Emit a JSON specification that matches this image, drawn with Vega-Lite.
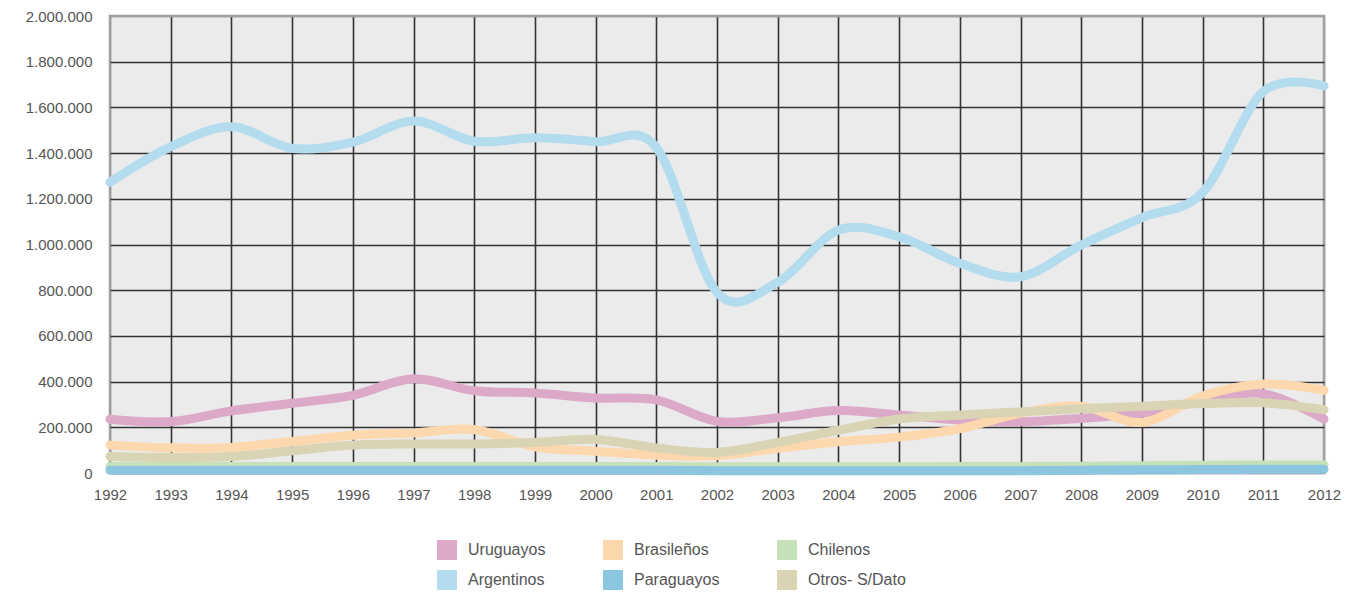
{
  "$schema": "https://vega.github.io/schema/vega-lite/v6.json",
  "width": 1214,
  "height": 457,
  "autosize": {"type": "none"},
  "padding": {"top": 16, "left": 110, "right": 40, "bottom": 119},
  "background": "white",
  "config": {
    "locale": {"number": {"decimal": ",", "thousands": ".", "grouping": [3], "currency": ["", ""]}},
    "view": {"fill": "#ebebeb", "stroke": "#a0a0a0", "strokeWidth": 2.5},
    "font": "Liberation Sans"
  },
  "data": {
    "values": [
      {"year": 1992, "Uruguayos": 235000, "Brasileños": 122000, "Chilenos": 28000, "Argentinos": 1272000, "Paraguayos": 12000, "Otros- S/Dato": 72000},
      {"year": 1993, "Uruguayos": 225000, "Brasileños": 110000, "Chilenos": 28000, "Argentinos": 1428000, "Paraguayos": 12000, "Otros- S/Dato": 68000},
      {"year": 1994, "Uruguayos": 272000, "Brasileños": 112000, "Chilenos": 28000, "Argentinos": 1515000, "Paraguayos": 12000, "Otros- S/Dato": 72000},
      {"year": 1995, "Uruguayos": 305000, "Brasileños": 138000, "Chilenos": 28000, "Argentinos": 1421000, "Paraguayos": 12000, "Otros- S/Dato": 97000},
      {"year": 1996, "Uruguayos": 340000, "Brasileños": 165000, "Chilenos": 28000, "Argentinos": 1448000, "Paraguayos": 12000, "Otros- S/Dato": 122000},
      {"year": 1997, "Uruguayos": 412000, "Brasileños": 175000, "Chilenos": 28000, "Argentinos": 1540000, "Paraguayos": 12000, "Otros- S/Dato": 127000},
      {"year": 1998, "Uruguayos": 360000, "Brasileños": 190000, "Chilenos": 28000, "Argentinos": 1452000, "Paraguayos": 12000, "Otros- S/Dato": 127000},
      {"year": 1999, "Uruguayos": 350000, "Brasileños": 115000, "Chilenos": 28000, "Argentinos": 1467000, "Paraguayos": 12000, "Otros- S/Dato": 134000},
      {"year": 2000, "Uruguayos": 328000, "Brasileños": 95000, "Chilenos": 28000, "Argentinos": 1450000, "Paraguayos": 12000, "Otros- S/Dato": 147000},
      {"year": 2001, "Uruguayos": 320000, "Brasileños": 78000, "Chilenos": 28000, "Argentinos": 1425000, "Paraguayos": 12000, "Otros- S/Dato": 110000},
      {"year": 2002, "Uruguayos": 226000, "Brasileños": 75000, "Chilenos": 27000, "Argentinos": 790000, "Paraguayos": 10000, "Otros- S/Dato": 90000},
      {"year": 2003, "Uruguayos": 242000, "Brasileños": 108000, "Chilenos": 27000, "Argentinos": 835000, "Paraguayos": 10000, "Otros- S/Dato": 134000},
      {"year": 2004, "Uruguayos": 273000, "Brasileños": 137000, "Chilenos": 27000, "Argentinos": 1063000, "Paraguayos": 10000, "Otros- S/Dato": 187000},
      {"year": 2005, "Uruguayos": 254000, "Brasileños": 157000, "Chilenos": 27000, "Argentinos": 1034000, "Paraguayos": 10000, "Otros- S/Dato": 236000},
      {"year": 2006, "Uruguayos": 232000, "Brasileños": 194000, "Chilenos": 28000, "Argentinos": 918000, "Paraguayos": 10000, "Otros- S/Dato": 254000},
      {"year": 2007, "Uruguayos": 224000, "Brasileños": 262000, "Chilenos": 28000, "Argentinos": 859000, "Paraguayos": 10000, "Otros- S/Dato": 267000},
      {"year": 2008, "Uruguayos": 239000, "Brasileños": 292000, "Chilenos": 30000, "Argentinos": 998000, "Paraguayos": 12000, "Otros- S/Dato": 281000},
      {"year": 2009, "Uruguayos": 262000, "Brasileños": 221000, "Chilenos": 32000, "Argentinos": 1118000, "Paraguayos": 14000, "Otros- S/Dato": 292000},
      {"year": 2010, "Uruguayos": 315000, "Brasileños": 337000, "Chilenos": 34000, "Argentinos": 1228000, "Paraguayos": 15000, "Otros- S/Dato": 304000},
      {"year": 2011, "Uruguayos": 347000, "Brasileños": 389000, "Chilenos": 35000, "Argentinos": 1669000, "Paraguayos": 16000, "Otros- S/Dato": 307000},
      {"year": 2012, "Uruguayos": 236000, "Brasileños": 362000, "Chilenos": 35000, "Argentinos": 1694000, "Paraguayos": 16000, "Otros- S/Dato": 277000}
    ]
  },
  "transform": [
    {"fold": ["Uruguayos", "Brasileños", "Chilenos", "Argentinos", "Paraguayos", "Otros- S/Dato"], "as": ["nac", "value"]}
  ],
  "mark": {"type": "line", "interpolate": "cardinal", "strokeWidth": 9, "strokeCap": "round", "strokeJoin": "round"},
  "encoding": {
    "x": {
      "field": "year", "type": "quantitative",
      "scale": {"domain": [1992, 2012], "nice": false, "zero": false},
      "axis": {
        "title": null,
        "values": [1992,1993,1994,1995,1996,1997,1998,1999,2000,2001,2002,2003,2004,2005,2006,2007,2008,2009,2010,2011,2012],
        "format": "d",
        "domain": false,
        "ticks": false,
        "labelFlush": false,
        "labelOverlap": false,
        "labelPadding": 14,
        "labelFontSize": 15,
        "labelColor": "#555555",
        "grid": true,
        "gridColor": {"condition": {"test": "datum.value == 1992 || datum.value == 2012", "value": "#a0a0a0"}, "value": "#333333"},
        "gridWidth": 1.6,
        "gridOpacity": 1
      }
    },
    "y": {
      "field": "value", "type": "quantitative",
      "scale": {"domain": [0, 2000000], "nice": false},
      "axis": {
        "title": null,
        "values": [0,200000,400000,600000,800000,1000000,1200000,1400000,1600000,1800000,2000000],
        "format": ",d",
        "domain": false,
        "ticks": false,
        "labelFlush": false,
        "labelPadding": 18,
        "labelFontSize": 15,
        "labelColor": "#555555",
        "grid": true,
        "gridColor": {"condition": {"test": "datum.value == 0 || datum.value == 2000000", "value": "#a0a0a0"}, "value": "#333333"},
        "gridWidth": 1.6,
        "gridOpacity": 1
      }
    },
    "color": {
      "field": "nac", "type": "nominal",
      "scale": {
        "domain": ["Uruguayos", "Brasileños", "Chilenos", "Argentinos", "Paraguayos", "Otros- S/Dato"],
        "range": ["#dcaac8", "#fdd8ae", "#c6e0b9", "#b3dcee", "#8cc5e0", "#d9d4b4"]
      },
      "legend": {
        "title": null,
        "orient": "none",
        "legendX": 327,
        "legendY": 524,
        "columns": 3,
        "direction": "horizontal",
        "padding": 0,
        "symbolType": "square",
        "symbolSize": 400,
        "symbolOpacity": 1,
        "labelOffset": 11,
        "labelFontSize": 16,
        "labelColor": "#555555",
        "columnPadding": 57,
        "rowPadding": 10,
        "encode": {
          "symbols": {
            "update": {
              "fill": {"scale": "color", "field": "value"},
              "fillOpacity": {"value": 1},
              "strokeWidth": {"value": 0}
            }
          }
        }
      }
    }
  }
}
